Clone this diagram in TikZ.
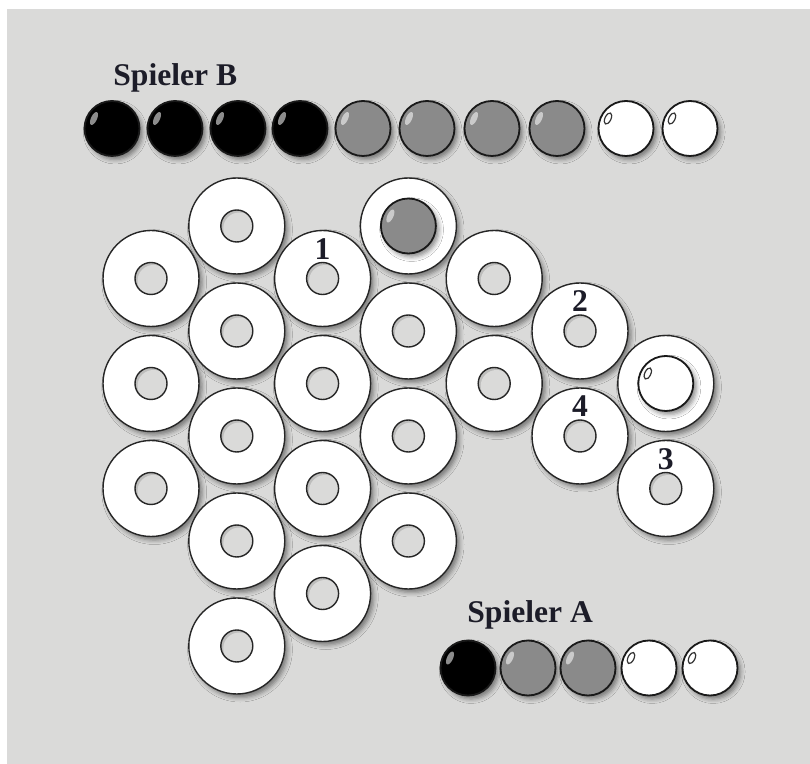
\documentclass[tikz,border=0pt]{standalone}
\usepackage{fontspec}
\setmainfont{Liberation Serif}
\usetikzlibrary{calc,shadows.blur}

\definecolor{boardbg}{HTML}{DADAD9}
\definecolor{holegray}{HTML}{BDBDBC}
\definecolor{ballgray}{HTML}{8A8A8A}
\definecolor{textdark}{HTML}{1C1C28}

\tikzset{
  softshadow/.style={blur shadow={shadow xshift=1.6pt, shadow yshift=-1.8pt,
      shadow blur radius=2.2pt, shadow opacity=45}},
  ringface/.style={fill=white, draw=black!85, line width=0.7pt},
  ballrim/.style={draw=black!90, line width=0.9pt},
  numlabel/.style={font=\fontsize{15.8}{18}\selectfont\bfseries, text=textdark,
      anchor=base, inner sep=0pt},
  playerlabel/.style={font=\fontsize{15.8}{18}\selectfont\bfseries, text=textdark,
      anchor=base west, inner sep=0pt},
}

% Ring mit Loch an einer benannten Koordinate
\newcommand{\boardring}[1]{%
  \filldraw[ringface] (#1) circle (48);
  \begin{scope}
    \clip (#1) circle (16);
    \fill[holegray] (#1) circle (16);
    \fill[boardbg] ($(#1)+(2.5,2.5)$) circle (16);
  \end{scope}
  \draw[black!85, line width=0.7pt] (#1) circle (16);
}
% Kugeln: #1 = Koordinate, #2 = Farbe
\newcommand{\darkball}[2]{%
  \filldraw[ballrim, fill=#2, softshadow] (#1) circle (27.5);
  \fill[white, opacity=0.55] ($(#1)+(-18,-10)$) circle [x radius=7, y radius=3, rotate=65];
}
\newcommand{\whiteball}[1]{%
  \filldraw[ballrim, fill=white, softshadow] (#1) circle (27.5);
  \draw[black!80, line width=0.6pt] ($(#1)+(-18,-10)$) circle [x radius=6, y radius=3, rotate=65];
}

\begin{document}
\begin{tikzpicture}[x=0.5pt, y=-0.5pt]
  \useasboundingbox (0,0) rectangle (810,764);
  \fill[boardbg] (7,9) rectangle (810,764);

  % Ringe auf dem Sechseckraster: Spalte c, Halbzeile k
  \foreach \c/\k in {0/1,0/3,0/5, 1/0,1/2,1/4,1/6,1/8, 2/1,2/3,2/5,2/7,
                     3/0,3/2,3/4,3/6, 4/1,4/3, 5/2,5/4, 6/3,6/5}
    \coordinate (r\c\k) at ({151+85.8*\c}, {226+52.5*\k});

  % erst die Schatten, dann die Ringe
  \foreach \c/\k in {0/1,0/3,0/5, 1/0,1/2,1/4,1/6,1/8, 2/1,2/3,2/5,2/7,
                     3/0,3/2,3/4,3/6, 4/1,4/3, 5/2,5/4, 6/3,6/5}
    \path[softshadow] (r\c\k) circle (48);
  \foreach \c/\k in {0/1,0/3,0/5, 1/0,1/2,1/4,1/6,1/8, 2/1,2/3,2/5,2/7,
                     3/0,3/2,3/4,3/6, 4/1,4/3, 5/2,5/4, 6/3,6/5}
    {\boardring{r\c\k}}

  % gesetzte Kugeln
  \darkball{r30}{ballgray}
  \whiteball{r63}

  % Zugnummern
  \node[numlabel] (n1) at ($(r21)+(0,-19)$) {1};
  \node[numlabel] (n2) at ($(r52)+(0,-19)$) {2};
  \node[numlabel] (n3) at ($(r65)+(0,-19)$) {3};
  \node[numlabel] (n4) at ($(r54)+(0,-19)$) {4};

  % Vorrat Spieler B
  \node[playerlabel] (spb) at (113,86) {Spieler B};
  \foreach \x [count=\i] in {112,175,238,300,363,427,492,557,626,690}
    \coordinate (sb\i) at (\x,128.5);
  \foreach \i in {1,...,4} {\darkball{sb\i}{black}}
  \foreach \i in {5,...,8} {\darkball{sb\i}{ballgray}}
  \foreach \i in {9,10} {\whiteball{sb\i}}

  % Vorrat Spieler A
  \node[playerlabel] (spa) at (467,623) {Spieler A};
  \foreach \x [count=\i] in {468,528,588,649,710}
    \coordinate (sa\i) at (\x,668);
  \darkball{sa1}{black}
  \darkball{sa2}{ballgray}
  \darkball{sa3}{ballgray}
  \whiteball{sa4}
  \whiteball{sa5}
\end{tikzpicture}
\end{document}
